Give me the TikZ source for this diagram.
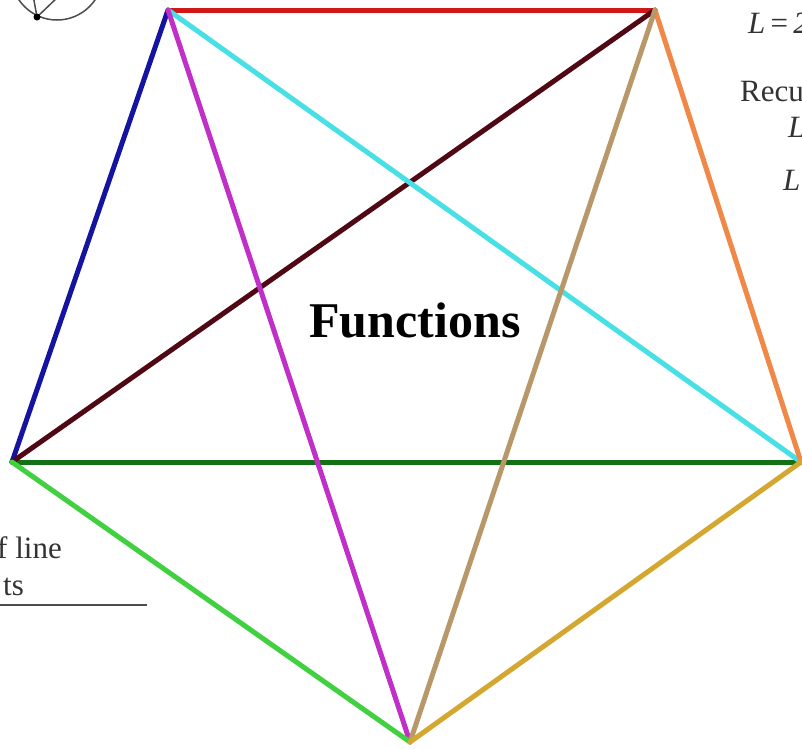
\documentclass[tikz,border=0pt]{standalone}
\usepackage{fontspec}
\setmainfont{Liberation Serif}
\usepackage{tikz}
\usetikzlibrary{positioning}

\definecolor{segred}{HTML}{D01818}
\definecolor{segblue}{HTML}{1414A0}
\definecolor{segmagenta}{HTML}{C030C8}
\definecolor{segcyan}{HTML}{48E0E4}
\definecolor{segmaroon}{HTML}{500814}
\definecolor{segorange}{HTML}{F08848}
\definecolor{segtan}{HTML}{B89868}
\definecolor{segdkgreen}{HTML}{147014}
\definecolor{seggreen}{HTML}{40D040}
\definecolor{seggold}{HTML}{D4A830}

\begin{document}
\begin{tikzpicture}[
  x=1pt, y=-1pt,
  seg/.style={line width=5pt, line cap=round},
  note/.style={inner sep=0pt, text=black!80, font=\fontsize{31}{34}\selectfont},
  title/.style={inner sep=0pt, font=\fontsize{50}{60}\selectfont\bfseries}
]
\useasboundingbox (0,0) rectangle (802,748);

% corners of the pentagon
\coordinate (A) at (168,10);
\coordinate (B) at (655,10);
\coordinate (C) at (801,462);
\coordinate (D) at (410,742);
\coordinate (E) at (12,462);

% segments
\draw[seg, segdkgreen] (E) -- (C);
\draw[seg, segred] (A) -- (B);
\draw[seg, segblue] (A) -- (E);
\draw[seg, segmaroon] (B) -- (E);
\draw[seg, segcyan] (A) -- (C);
\draw[seg, segmagenta] (A) -- (D);
\draw[seg, segorange] (B) -- (C);
\draw[seg, segtan] (B) -- (D);
\draw[seg, seggreen] (E) -- (D);
\draw[seg, seggold] (D) -- (C);

\node[title] (fn) at (415,320) {Functions};

% little circle in the corner
\coordinate (hub) at (37,17);
\draw[black!70, line width=1.5pt] (57,-26) circle (46);
\draw[black!70, line width=1.5pt] (hub) -- (33,-5);
\draw[black!70, line width=1.5pt] (hub) -- (60,-5);
\fill (hub) circle (3.5);

% text cut by the edges
\node[note, anchor=base west] (len) at (748,33) {\textit{L}\,=\,\textit{2}};
\node[note, anchor=base west] (rec) at (740,101) {Recu};
\node[note, anchor=base west] (rone) at (788,137) {\textit{L}};
\node[note, anchor=base west] (rtwo) at (783,190) {\textit{L}};
\node[note, anchor=base west] (lone) at (-3,558) {f line};
\node[note, anchor=base west] (ltwo) at (3,595) {ts};
\coordinate (ul) at (147,605);
\draw[black!70, line width=1.5pt] (0,605) -- (ul);
\end{tikzpicture}
\end{document}
